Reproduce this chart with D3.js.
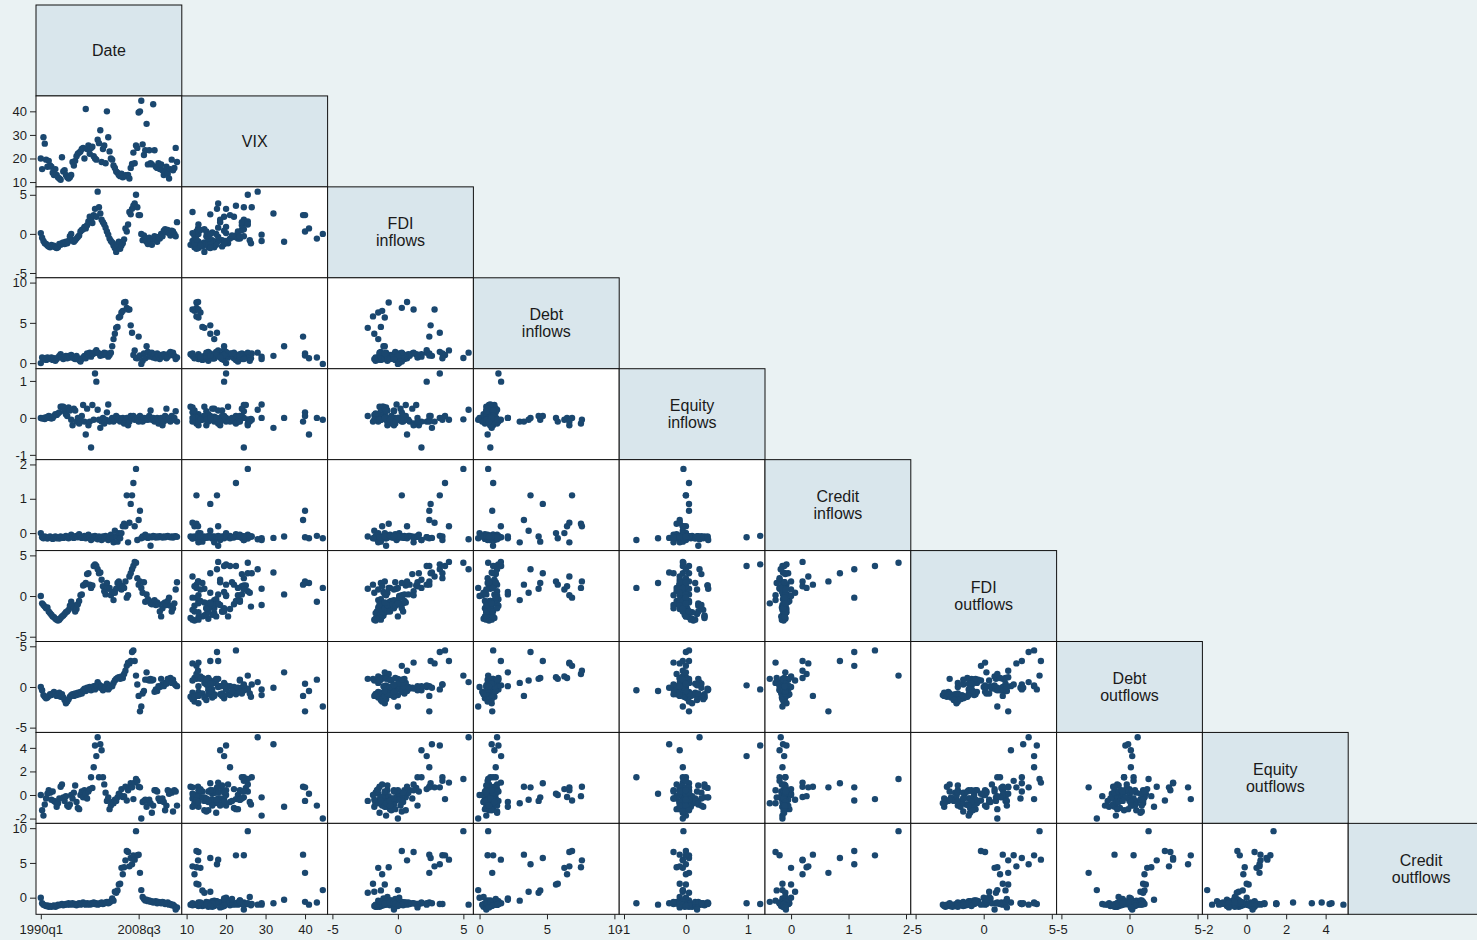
<!DOCTYPE html>
<html><head><meta charset="utf-8">
<script src="https://cdn.jsdelivr.net/npm/d3@7"></script>
<style>
html,body{margin:0;padding:0;background:#eaf2f3;}
svg{display:block;}
text{font-family:"Liberation Sans",Arial,Helvetica,sans-serif;}
</style>
</head><body>
<svg id="chart" width="1477" height="940"></svg>
<script>
// ---- data (quarterly, 1990q1 .. 2015q4) ----
const varLabels = ["Date","VIX","FDI\ninflows","Debt\ninflows","Equity\ninflows","Credit\ninflows","FDI\noutflows","Debt\noutflows","Equity\noutflows","Credit\noutflows"];
const startYear = 1990;
const dateIndex = d3.range(104); // quarter offsets from 1990q1

const vix = [20,15.5,29,26.3,19.5,16.5,19,17,
16.5,14,13,15.5,13,12,11.5,11,
20.5,14.5,15,13,12,11.5,12,13,
18.5,17,19,21,22,22.5,23,24,
24.5,20,41,24,25.5,22,24.5,25,
21,20,19.5,28,26.5,32,18.5,24,
25.5,18,40,29,23,20,19.5,17,
16,14.5,14,13,12.5,13.5,12,12.5,
12.9,12.5,13,11.5,16,17.7,22.5,18,
25.5,24.5,39.5,40,44.5,26,21.5,23.5,
34.7,17.5,23.5,18,17.5,43,23.5,16.5,
16,18,15.5,17.5,15,13,14.5,16.5,
13.5,11.5,15.5,19.5,15,16,24.5,18.5];

const fdiIn = [0.1,-0.5,-0.9,-1.2,-1.3,-1.5,-1.6,-1.7,
-1.4,-1.6,-1.5,-1.7,-1.8,-1.7,-1.3,-1.4,
-1.2,-1.1,-1.3,-1.0,-1.2,-0.9,-0.3,0.0,
-0.8,-1.0,-0.8,-0.6,-0.4,-0.2,0.3,0.5,
0.6,0.9,0.7,1.1,1.6,2.2,1.8,1.4,
2.4,3.2,2.2,5.4,3.4,2.6,1.8,1.5,
1.2,0.8,0.3,-0.1,-0.6,-0.9,-1.1,-1.5,
-1.8,-2.3,-1.3,-1.0,-1.9,-1.5,-1.2,-0.7,
0.7,0.3,1.2,2.8,2.5,3.2,3.6,3.9,
5.0,3.4,2.4,2.4,0.0,-0.8,-0.2,-0.6,
-1.0,-1.3,-0.5,-0.9,-1.4,-0.6,-0.3,-0.8,
-1.0,-0.4,-0.6,0.0,-0.3,0.4,0.6,0.2,
0.5,0.1,-0.2,0.4,0.3,0.0,-0.3,1.5];

const debtIn = [0.0,0.7,0.5,0.6,0.4,0.7,0.5,0.6,
0.7,0.4,0.6,0.3,0.5,0.7,0.9,1.1,
0.7,0.5,0.8,0.9,0.6,0.9,0.7,1.0,
0.8,0.6,0.5,0.9,0.6,0.4,0.2,0.5,
0.7,0.9,0.6,1.2,1.0,1.3,0.8,1.1,
1.2,1.4,1.6,1.3,1.2,0.9,1.1,1.0,
1.3,1.1,1.2,0.8,1.0,1.3,2.1,2.98,
3.64,4.38,4.5,5.67,5.8,6.29,6.49,7.52,
7.59,6.86,6.66,6.66,4.69,3.78,1.01,1.58,
0.64,0.6,3.29,0.94,-0.1,0.3,1.2,0.6,
2.1,1.4,0.8,1.0,1.3,0.7,1.1,0.6,
1.2,0.9,0.5,1.0,0.8,1.1,0.9,0.6,
0.8,1.2,1.4,1.0,1.3,0.9,0.5,0.7];

const equityIn = [0.0,-0.02,0.0,-0.03,0.02,0.0,0.05,0.03,
-0.02,0.0,0.05,0.1,0.08,0.12,0.15,0.3,
0.3,0.3,0.18,0.1,0.05,0.28,0.2,-0.05,
-0.2,0.25,0.2,-0.1,0.0,-0.15,-0.1,0.05,
0.35,-0.1,-0.45,0.25,-0.2,-0.1,-0.8,0.35,
-0.05,1.2,0.98,0.22,-0.05,-0.27,-0.1,0.0,
-0.15,-0.05,0.15,0.36,-0.1,-0.05,0.0,-0.1,
-0.05,0.05,-0.05,0.0,-0.1,-0.05,0.0,-0.15,
-0.05,0.0,-0.2,-0.1,0.05,0.0,0.05,-0.05,
-0.04,0.0,-0.1,0.05,-0.05,-0.1,0.0,-0.05,
0.0,-0.05,0.05,0.2,-0.05,0.0,-0.1,-0.05,
0.0,-0.15,-0.05,0.0,-0.2,-0.1,0.05,0.25,
-0.05,0.0,-0.1,0.05,-0.05,0.0,0.18,-0.1];

const creditIn = [0.0,-0.12,-0.15,-0.1,-0.13,-0.16,-0.12,-0.1,
-0.14,-0.17,-0.12,-0.1,-0.15,-0.13,-0.16,-0.1,
-0.12,-0.14,-0.11,-0.08,-0.13,-0.15,-0.1,-0.05,
-0.12,-0.14,-0.1,-0.08,-0.12,-0.03,-0.1,-0.14,
-0.12,-0.08,-0.15,-0.1,-0.05,-0.12,-0.2,-0.1,
-0.15,-0.08,-0.12,-0.18,-0.1,-0.14,-0.2,-0.1,
-0.16,-0.08,-0.12,-0.2,-0.1,-0.05,-0.15,-0.27,
0.07,-0.1,-0.25,0.0,-0.15,0.0,0.2,0.27,
0.2,1.1,-0.27,0.3,0.85,1.1,1.46,0.2,
1.87,-0.2,0.38,0.65,-0.15,-0.1,-0.12,-0.05,
-0.1,-0.14,-0.1,-0.37,-0.12,-0.08,-0.1,-0.13,
-0.1,-0.12,-0.09,-0.11,-0.13,-0.1,-0.12,-0.1,
-0.08,-0.11,-0.12,-0.1,-0.13,-0.1,-0.09,-0.11];

const fdiOut = [0.0,-0.9,-1.1,-1.3,-1.5,-1.4,-1.9,-2.1,
-2.3,-2.5,-2.6,-2.8,-2.9,-3.0,-2.9,-2.7,
-2.5,-2.4,-2.2,-2.0,-1.9,-1.7,-1.2,-0.7,
-1.1,-1.5,-1.9,-1.6,-1.0,-0.6,0.1,0.2,
1.3,1.4,1.6,2.7,2.8,1.4,1.0,1.3,
3.7,3.9,3.7,3.3,2.8,2.9,2.0,1.2,
0.6,0.2,1.6,0.9,1.0,0.1,0.5,-0.5,
0.4,0.9,1.6,1.8,1.4,0.8,1.2,1.0,
1.8,-0.2,0.1,2.4,2.8,3.3,3.7,4.2,
4.1,2.2,1.4,1.8,1.0,0.4,1.7,-0.7,
0.2,-0.4,-0.6,-0.9,-1.0,-0.7,-0.5,-1.1,
-0.8,-1.0,-1.9,-2.5,-1.5,-0.9,-0.8,-1.1,
-0.6,-0.2,-1.2,-1.9,-1.5,-0.9,0.8,1.7];

const debtOut = [0.0,-0.4,-1.0,-1.2,-1.4,-1.3,-1.1,-0.9,
-1.0,-0.8,-0.6,-0.9,-1.1,-1.0,-0.7,-1.2,
-0.9,-1.3,-1.6,-2.0,-1.8,-1.5,-1.2,-1.0,
-0.9,-1.1,-0.8,-1.0,-0.7,-0.9,-0.6,-0.8,
-0.4,-0.2,-0.5,-0.1,-0.3,0.0,-0.4,-0.2,
0.1,-0.3,0.2,0.6,0.3,-0.1,0.1,-0.4,
-0.2,0.0,0.4,-0.3,-0.1,0.2,0.1,0.5,
0.8,1.0,1.1,1.2,1.0,1.3,1.1,1.6,
2.0,2.6,3.0,2.9,3.2,4.3,4.5,3.2,
1.4,0.3,-1.1,-3.0,-2.4,-0.8,-0.5,0.9,
1.8,0.9,0.8,1.0,0.8,0.9,-0.6,-0.3,
-0.5,0.1,0.0,1.0,0.3,0.1,0.5,0.4,
1.0,0.8,1.1,0.5,0.9,0.4,0.2,0.1];

const equityOut = [0.0,-1.3,-1.75,-0.8,-0.3,0.1,0.4,0.2,
-0.4,0.3,-0.5,-0.6,-1.0,-0.7,-0.3,0.7,
0.9,-0.2,-0.5,-0.1,-0.9,-1.0,-0.8,0.0,
-0.3,0.2,0.8,-0.6,-1.1,-1.2,0.0,0.3,
-0.2,0.4,0.1,-0.3,0.3,0.5,1.5,0.6,
2.35,4.2,3.3,4.9,1.5,4.3,3.8,1.5,
0.9,0.2,-0.5,-0.2,-1.2,-0.9,-0.6,-0.7,
-0.4,-0.5,-0.2,0.1,0.0,0.5,-0.17,-0.1,
0.7,-0.47,0.4,0.65,1.0,0.65,-0.35,1.05,
1.36,1.2,0.7,0.65,-2.0,-0.6,-0.5,-0.4,
-1.0,-0.5,-0.4,-0.7,-1.5,-0.9,0.4,0.4,
0.3,-0.3,-0.5,-0.4,-0.3,-0.6,-1.3,-0.9,
0.4,0.1,0.3,0.2,-1.4,0.4,0.3,-0.9];

const creditOut = [0.0,-0.8,-1.0,-1.1,-1.2,-1.1,-1.3,-1.2,
-1.3,-1.2,-1.1,-1.3,-1.2,-1.0,-1.1,-1.0,
-0.9,-1.1,-1.0,-0.9,-1.0,-0.8,-1.0,-0.9,
-0.8,-1.0,-0.9,-1.1,-0.9,-0.8,-1.0,-0.9,
-0.7,-0.9,-1.0,-0.8,-0.9,-1.0,-0.8,-0.9,
-0.7,-0.9,-0.8,-1.0,-0.9,-0.8,-0.7,-0.9,
-0.8,-0.7,-0.6,-0.8,-0.7,-0.5,-0.1,-0.43,
0.86,0.71,1.05,1.9,2.0,4.29,3.37,4.37,
5.37,6.71,6.57,4.51,5.71,4.8,6.09,5.47,
9.57,6.1,6.19,3.57,1.09,0.1,-0.2,-0.4,
-0.3,-0.5,-0.4,-0.6,-0.5,-0.7,-0.6,-0.5,
-0.8,-0.6,-0.7,-0.8,-0.6,-0.7,-0.9,-0.8,
-0.7,-1.0,-0.9,-1.1,-1.0,-1.2,-1.7,-1.4];

// tick values per variable
const tickSets = [[0,74],[10,20,30,40],[-5,0,5],[0,5,10],[-1,0,1],[0,1,2],[-5,0,5],[-5,0,5],[-2,0,2,4],[0,5,10]];

const series = [dateIndex, vix, fdiIn, debtIn, equityIn, creditIn, fdiOut, debtOut, equityOut, creditOut];
const n = series.length;

// ---- layout ----
const X0 = 36, Y0 = 5, CW = 145.8, CH = 90.93, PAD = 4.8;
const bg = "#eaf2f3", headFill = "#d9e6ec", markColor = "#1a476f";

const svg = d3.select("#chart");
svg.append("rect").attr("width",1477).attr("height",940).attr("fill",bg);

const fmtDate = q => `${startYear + Math.floor(q/4)}q${q%4+1}`;
const fmtNum = v => String(v); // plain hyphen-minus, as in the reference

const domains = series.map((s,i) => d3.extent(s.concat(tickSets[i])));
const xScales = series.map((s,i) => d3.scaleLinear().domain(domains[i]).range([X0 + i*CW + PAD, X0 + (i+1)*CW - PAD]));
const yScales = series.map((s,i) => d3.scaleLinear().domain(domains[i]).range([Y0 + (i+1)*CH - PAD, Y0 + i*CH + PAD]));

const g = svg.append("g");
for (let r = 0; r < n; r++) {
  for (let c = 0; c <= r; c++) {
    const x = X0 + c*CW, y = Y0 + r*CH;
    if (r === c) {
      g.append("rect").attr("x",x).attr("y",y).attr("width",CW).attr("height",CH)
        .attr("fill",headFill).attr("stroke","#111").attr("stroke-width",1);
      const lines = varLabels[r].split("\n");
      const t = g.append("text").attr("text-anchor","middle").attr("font-size",16).attr("fill","#1a1a1a");
      lines.forEach((ln,k) => {
        t.append("tspan").attr("x", x + CW/2)
          .attr("y", y + CH/2 + (k - (lines.length-1)/2)*17)
          .attr("dy","0.35em").text(ln);
      });
    } else {
      g.append("rect").attr("x",x).attr("y",y).attr("width",CW).attr("height",CH)
        .attr("fill","#ffffff").attr("stroke","#111").attr("stroke-width",1);
      const xs = xScales[c], ys = yScales[r];
      const pts = dateIndex.map(i => [series[c][i], series[r][i]]);
      g.append("g").selectAll("circle").data(pts).join("circle")
        .attr("cx", d => xs(d[0])).attr("cy", d => ys(d[1])).attr("r", 3.2)
        .attr("fill", markColor);
    }
  }
}

// left axes (column 0)
for (let r = 1; r < n; r++) {
  const ax = d3.axisLeft(yScales[r]).tickValues(tickSets[r]).tickSize(6).tickPadding(3).tickFormat(fmtNum);
  const ag = svg.append("g").attr("transform",`translate(${X0},0)`).call(ax);
  ag.select(".domain").remove();
  ag.selectAll("text").attr("font-size",13).attr("fill","#1e1e1e").style("font-family","'Liberation Sans',Arial,sans-serif");
  ag.selectAll("line").attr("stroke","#222");
}
// bottom axes (last row)
const bottomY = Y0 + n*CH;
for (let c = 0; c < n-1; c++) {
  const ax = d3.axisBottom(xScales[c]).tickValues(tickSets[c]).tickSize(5).tickPadding(5)
    .tickFormat(c === 0 ? fmtDate : fmtNum);
  const ag = svg.append("g").attr("transform",`translate(0,${bottomY})`).call(ax);
  ag.select(".domain").remove();
  ag.selectAll("text").attr("font-size",13).attr("fill","#1e1e1e").style("font-family","'Liberation Sans',Arial,sans-serif");
  ag.selectAll("line").attr("stroke","#222");
}
</script>
</body></html>
